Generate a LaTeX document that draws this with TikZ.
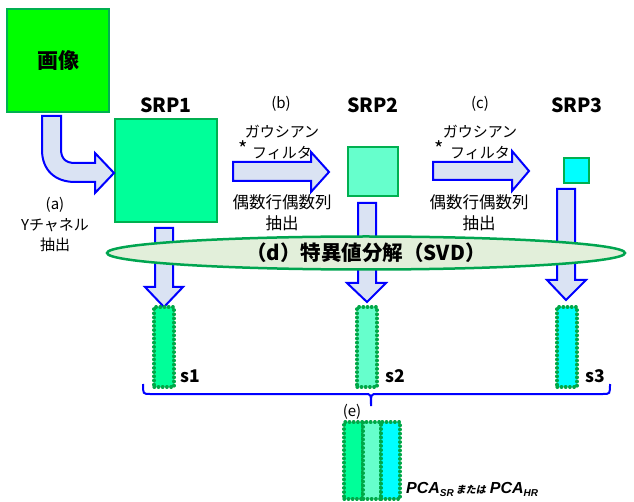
\documentclass[tikz,border=0pt]{standalone}
\usepackage{fontspec}
\setmainfont{Noto Sans CJK JP}
\newfontfamily\latinfont{Liberation Sans}
\newfontfamily\slantcjk{Noto Sans CJK JP}[FakeSlant=0.2]
\usetikzlibrary{shapes.geometric}
\definecolor{imggreen}{HTML}{00FF00}
\definecolor{boxgreen}{HTML}{00B050}
\definecolor{dotgreen}{HTML}{00A848}
\definecolor{srpa}{HTML}{00FF99}
\definecolor{srpb}{HTML}{66FFCC}
\definecolor{srpc}{HTML}{00FFFF}
\definecolor{arrblue}{HTML}{0000FF}
\definecolor{arrfill}{HTML}{DAE3F3}
\definecolor{ellfill}{HTML}{E2EFDA}
\definecolor{ellline}{HTML}{00A550}
\begin{document}
\begin{tikzpicture}[x=1pt,y=-1pt,
  blk/.style={draw=boxgreen,line width=2pt,inner sep=0pt},
  blockarrow/.style={draw=arrblue,fill=arrfill,line width=2pt,line join=miter},
  lbl/.style={font=\fontsize{15}{16}\selectfont,inner sep=0pt},
  biglbl/.style={font=\fontsize{16.5}{18}\selectfont,inner sep=0pt},
  star/.style={font=\fontsize{20}{20}\selectfont,inner sep=0pt},
  srp/.style={font=\bfseries\fontsize{19.5}{20}\selectfont,inner sep=0pt},
  slbl/.style={font=\bfseries\fontsize{17.5}{18}\selectfont,inner sep=0pt},
  dotbar/.style={draw=dotgreen,line width=3.2pt,dash pattern=on 0.6pt off 3.6pt,line cap=round,inner sep=0pt},
]
\useasboundingbox (0,0) rectangle (634,502);

% boxes
\node[blk,fill=imggreen,minimum width=102pt,minimum height=103pt,font=\bfseries\fontsize{21}{22}\selectfont] (img) at (58,60.5) {画像};
\node[blk,fill=srpa,minimum width=102pt,minimum height=103pt] (srp1) at (166,170.5) {};
\node[blk,fill=srpb,minimum width=50pt,minimum height=49pt] (srp2) at (373,171.5) {};
\node[blk,fill=srpc,minimum width=25pt,minimum height=25pt] (srp3) at (576.5,170.5) {};

\node[srp] (t1) at (166,105) {SRP1};
\node[srp] (t2) at (373,105) {SRP2};
\node[srp] (t3) at (577,105) {SRP3};

% arrow (a)
\draw[blockarrow] (42,116) -- (61,116) -- (61,149) .. controls (61,158) and (65,163) .. (75,163) -- (95,163) -- (95,153) -- (114,173) -- (95,193) -- (95,182) -- (75,182) .. controls (55,182) and (42,170) .. (42,150) -- cycle;
\node[lbl] (la1) at (55,205) {(a)};
\node[lbl] (la2) at (55,225) {Yチャネル};
\node[lbl] (la3) at (55,245) {抽出};

% arrow (b)
\draw[blockarrow] (233,162) -- (311,162) -- (311,152) -- (329,172) -- (311,192) -- (311,181) -- (233,181) -- cycle;
\node[lbl] (lb1) at (281,104) {(b)};
\node[lbl] (lb2) at (282,132) {ガウシアン};
\node[lbl] (lb3) at (282,153) {フィルタ};
\node[star] (lbs) at (243,149) {*};
\node[biglbl] (lb4) at (282,202) {偶数行偶数列};
\node[biglbl] (lb5) at (282,223) {抽出};

% arrow (c)
\draw[blockarrow] (433,162) -- (512,162) -- (512,151) -- (529,171) -- (512,191) -- (512,180) -- (433,180) -- cycle;
\node[lbl] (lc1) at (480,104) {(c)};
\node[lbl] (lc2) at (480,132) {ガウシアン};
\node[lbl] (lc3) at (480,153) {フィルタ};
\node[star] (lcs) at (439,149) {*};
\node[biglbl] (lc4) at (479,202) {偶数行偶数列};
\node[biglbl] (lc5) at (479,223) {抽出};

% down arrows
\draw[blockarrow] (155,228) -- (173,228) -- (173,287) -- (183,287) -- (164,307) -- (145,287) -- (155,287) -- cycle;
\draw[blockarrow] (358,203) -- (376,203) -- (376,283) -- (386,283) -- (367,302) -- (347,283) -- (358,283) -- cycle;
\draw[blockarrow] (557,189) -- (575,189) -- (575,280) -- (586,280) -- (566,300) -- (547,280) -- (557,280) -- cycle;

% SVD ellipse
\node[ellipse,draw=ellline,fill=ellfill,line width=2.5pt,minimum width=518pt,minimum height=33pt,inner sep=0pt,
  font=\bfseries\fontsize{20.5}{21}\selectfont] (svd) at (366,253) {（d）特異値分解（SVD）};

% singular value bars
\node[dotbar,fill=srpa,minimum width=20pt,minimum height=80pt] (s1) at (164,347) {};
\node[dotbar,fill=srpb,minimum width=20pt,minimum height=80pt] (s2) at (367,347) {};
\node[dotbar,fill=srpc,minimum width=20pt,minimum height=80pt] (s3) at (567,347) {};
\node[slbl] (ls1) at (190,376) {s1};
\node[slbl] (ls2) at (395,376) {s2};
\node[slbl] (ls3) at (595,376) {s3};

% brace
\coordinate (bl) at (143,384);
\coordinate (br) at (610,384);
\coordinate (bm) at (371,406);
\draw[arrblue,line width=2pt] (bl) .. controls (143,394) .. (150,394) -- (365,394) .. controls (371,394) .. (bm)
  .. controls (371,394) .. (377,394) -- (603,394) .. controls (610,394) .. (br);

\node[lbl] (le) at (352,412) {(e)};

% PCA bars
\node[dotbar,fill=srpa,minimum width=19pt,minimum height=77pt] (e1) at (353.5,460.5) {};
\node[dotbar,fill=srpb,minimum width=18pt,minimum height=77pt] (e2) at (372,460.5) {};
\node[dotbar,fill=srpc,minimum width=19pt,minimum height=77pt] (e3) at (390.5,460.5) {};

\node[anchor=west,inner sep=0pt] (pca) at (406,489) {{\latinfont\bfseries\itshape\fontsize{16}{18}\selectfont PCA}\raisebox{-3pt}{\latinfont\bfseries\itshape\fontsize{10}{11}\selectfont SR}\hspace{2pt}{\slantcjk\bfseries\fontsize{10}{11}\selectfont または}\hspace{4pt}{\latinfont\bfseries\itshape\fontsize{16}{18}\selectfont PCA}\raisebox{-3pt}{\latinfont\bfseries\itshape\fontsize{10}{11}\selectfont HR}};
\end{tikzpicture}
\end{document}
